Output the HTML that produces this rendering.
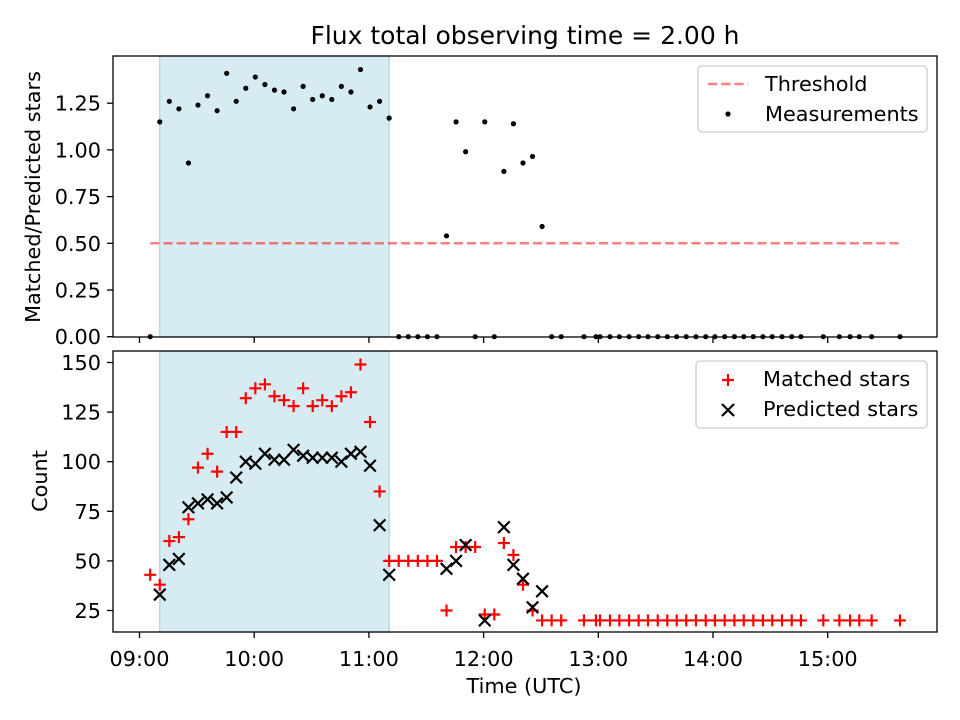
<!DOCTYPE html>
<html><head><meta charset="utf-8"><style>
body{margin:0;background:#fff}
svg{display:block;font-family:"DejaVu Sans","Liberation Sans",sans-serif}
</style></head><body>
<svg id="c" width="960" height="720" xmlns="http://www.w3.org/2000/svg"></svg>
<script>
const times = [5.6,10.6,15.6,20.6,25.6,30.6,35.6,40.6,45.6,50.6,55.6,60.6,65.6,70.6,75.6,80.6,85.6,90.6,95.6,100.6,105.6,110.6,115.6,120.6,125.6,130.6,135.6,140.6,145.6,150.6,155.6,160.6,165.6,170.6,175.6,180.6,185.6,190.6,195.6,200.6,205.6,210.6,215.6,220.6,232.5,238.8,240.9,246.1,251.0,256.1,261.1,266.0,271.1,276.1,281.0,286.0,291.1,296.2,301.0,306.1,311.2,316.1,321.1,326.1,331.0,336.1,341.2,346.0,357.7,366.1,371.7,376.5,383.0,397.8];
const ratio = [0,1.15,1.26,1.22,0.93,1.24,1.29,1.21,1.41,1.26,1.33,1.39,1.35,1.32,1.31,1.22,1.34,1.27,1.29,1.27,1.34,1.31,1.43,1.23,1.26,1.17,0,0,0,0,0,0.54,1.15,0.99,0,1.15,0,0.885,1.14,0.93,0.965,0.59,0,0,0,0,0,0,0,0,0,0,0,0,0,0,0,0,0,0,0,0,0,0,0,0,0,0,0,0,0,0,0,0];
const matched = [43,38,60,62,71,97,104,95,115,115,132,137,139,133,131,128,137,128,131,128,133,135,149,120,85,50,50,50,50,50,50,25,57,57,57,23,23,59,53,38,25,20,20,20,20,20,20,20,20,20,20,20,20,20,20,20,20,20,20,20,20,20,20,20,20,20,20,20,20,20,20,20,20,20];
const predicted = [null,33,48,51,77,79,81,79,82,92,100,99,104,101,101,106,103,102,102,102,100,104,105,98,68,43,null,null,null,null,null,46,50,58,null,20,null,67,48,41,26.6,34.7];
const threshold = 0.5;
const shadeStart = 10.6, shadeEnd = 130.6;
const xTickLabels = ["09:00","10:00","11:00","12:00","13:00","14:00","15:00"];
const xTickMins = [0,60,120,180,240,300,360];
const topTicks = [0,0.25,0.5,0.75,1.0,1.25];
const botTicks = [25,50,75,100,125,150];

const NS="http://www.w3.org/2000/svg", svg=document.getElementById('c');
function el(t,a,p){const e=document.createElementNS(NS,t);for(const k in a)e.setAttribute(k,a[k]);(p||svg).appendChild(e);return e;}
const L=113,R=937,T1=56,B1=337,T2=351,B2=632;
const FS=20.8;
const X=t=>139.5+t*114.7/60;
const Y1=v=>336.7-v*186.8;
const Y2=v=>610.5-(v-25)*1.984;

[[T1,B1],[T2,B2]].forEach(([t,b],i)=>{
  const r=el('rect',{x:X(shadeStart),y:t,width:X(shadeEnd)-X(shadeStart),height:b-t,fill:'#add8e6','fill-opacity':0.5,stroke:'#add8e6','stroke-width':1.3});
  
  
});
const th=el('line',{x1:X(times[0]),x2:X(times[times.length-1]),y1:Y1(threshold),y2:Y1(threshold),stroke:'#ff0000','stroke-opacity':0.5,'stroke-width':2.5,'stroke-dasharray':'9.2,4'});


times.forEach((t,i)=>{
  const c=el('circle',{cx:X(t),cy:Y1(ratio[i]),r:2.6,fill:'#000'});
  
  
});
times.forEach((t,i)=>{
  const x=X(t),y=Y2(matched[i]),s=6;
  const p=el('path',{d:`M${x-s},${y}H${x+s}M${x},${y-s}V${y+s}`,stroke:'#ff0000','stroke-width':2.2});
  
  
});
times.forEach((t,i)=>{
  if(i>=predicted.length||predicted[i]==null)return;
  const x=X(t),y=Y2(predicted[i]),s=5.8;
  const p=el('path',{d:`M${x-s},${y-s}L${x+s},${y+s}M${x-s},${y+s}L${x+s},${y-s}`,stroke:'#000','stroke-width':2.2});
  
  
});
[[T1,B1],[T2,B2]].forEach(([t,b],i)=>{
  const r=el('rect',{x:L,y:t,width:R-L,height:b-t,fill:'none',stroke:'#000','stroke-width':1.3});
  
  
});
xTickMins.forEach((m,i)=>{
  const x=X(m);
  el('line',{x1:x,x2:x,y1:B1,y2:B1+6,stroke:'#000','stroke-width':1.3});
  el('line',{x1:x,x2:x,y1:B2,y2:B2+6,stroke:'#000','stroke-width':1.3});
  const tx=el('text',{x:x,y:B2+34,'font-size':FS,'text-anchor':'middle'});
  tx.textContent=xTickLabels[i];
  
  
});
topTicks.forEach(v=>{
  const y=Y1(v);
  el('line',{x1:L-6,x2:L,y1:y,y2:y,stroke:'#000','stroke-width':1.3});
  const tx=el('text',{x:L-12,y:y+7.5,'font-size':FS,'text-anchor':'end'});
  tx.textContent=v.toFixed(2);
  
  
});
botTicks.forEach(v=>{
  const y=Y2(v);
  el('line',{x1:L-6,x2:L,y1:y,y2:y,stroke:'#000','stroke-width':1.3});
  const tx=el('text',{x:L-12,y:y+7.5,'font-size':FS,'text-anchor':'end'});
  tx.textContent=String(v);
  
  
});
</script>
<svg width="960" height="720" style="position:absolute;left:0;top:0" xmlns="http://www.w3.org/2000/svg" font-family="DejaVu Sans, Liberation Sans, sans-serif">
<text x="525" y="44" font-size="25" text-anchor="middle">Flux total observing time = 2.00 h</text>
<text x="524" y="693" font-size="20.8" text-anchor="middle">Time (UTC)</text>
<text transform="translate(40,197) rotate(-90)" font-size="20.8" text-anchor="middle">Matched/Predicted stars</text>
<text transform="translate(47,481) rotate(-90)" font-size="20.8" text-anchor="middle">Count</text>
<g>
<rect x="698" y="66" width="229" height="66" rx="4" fill="#fff" fill-opacity="0.8" stroke="#ccc" stroke-width="1.3"/>
<line x1="708" x2="748" y1="84" y2="84" stroke="#ff0000" stroke-opacity="0.5" stroke-width="2.5" stroke-dasharray="9.2,4"/>
<text x="765" y="91" font-size="20.8">Threshold</text>
<circle cx="728" cy="114" r="2.6" fill="#000"/>
<text x="765" y="121" font-size="20.8">Measurements</text>
</g>
<g>
<rect x="696" y="361" width="231" height="67" rx="4" fill="#fff" fill-opacity="0.8" stroke="#ccc" stroke-width="1.3"/>
<path d="M722,380H734M728,374V386" stroke="#ff0000" stroke-width="2.2"/>
<text x="763" y="386" font-size="20.8">Matched stars</text>
<path d="M722,404L734,416M722,416L734,404" stroke="#000" stroke-width="2.2"/>
<text x="763" y="416" font-size="20.8">Predicted stars</text>
</g>
</svg>
</body></html>
